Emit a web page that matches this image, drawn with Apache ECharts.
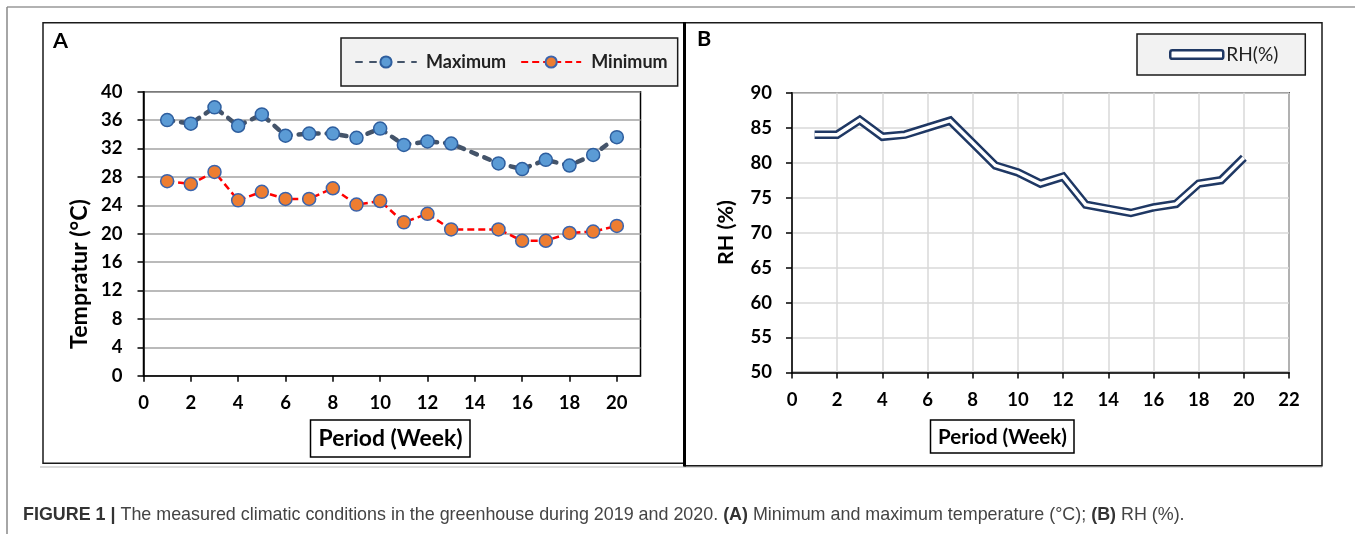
<!DOCTYPE html>
<html><head><meta charset="utf-8">
<script src="https://cdn.jsdelivr.net/npm/echarts@6/dist/echarts.min.js"></script>
<style>html,body{margin:0;padding:0;background:#fff}#c{width:1355px;height:534px}</style>
</head><body><div id="c"></div>
<script>
// Panel A: temperature (week 14 not recorded)
const weeksA = [1,2,3,4,5,6,7,8,9,10,11,12,13,15,16,17,18,19,20];
const tMax = [36.0,35.5,37.8,35.2,36.8,33.8,34.1,34.1,33.5,34.8,32.5,33.0,32.7,29.9,29.1,30.4,29.6,31.1,33.6];
const tMin = [27.4,27.0,28.7,24.7,25.9,24.9,24.9,26.4,24.1,24.6,21.6,22.8,20.6,20.6,19.0,19.0,20.1,20.3,21.1];
// Panel B: relative humidity
const weeksB = [1,2,3,4,5,6,7,8,9,10,11,12,13,14,15,16,17,18,19,20];
const rh = [84.0,84.0,86.1,83.7,84.0,85.0,86.0,82.8,79.6,78.6,77.0,78.0,74.0,73.4,72.8,73.6,74.1,77.0,77.5,80.7];

const F = 'Lato';
const CF = '"Liberation Sans"';
const mctx = document.createElement('canvas').getContext('2d');
function fit(text, weight, family, target) {
  mctx.font = weight + ' 100px ' + family;
  return Math.round(1000 * target / mctx.measureText(text).width) / 10;
}
const fsTick = fit('40', 'bold', F, 21.5);
const fsLegA = fit('Maximum', 'bold', F, 80);
const fsLegB = fit('RH(%)', 'normal', F, 52);
const fsNameA = fit('Period (Week)', 'bold', F, 144);
const fsNameB = fit('Period (Week)', 'bold', F, 129);
const fsTemp = fit('Tempratur (°C)', 'bold', F, 150);
const fsRH = fit('RH (%)', 'bold', F, 65);
const fsPanel = fit('A', 'bold', F, 15);
const fsCap = fit('The measured climatic conditions i', 'normal', CF, 274);

const pair = (xs, ys) => xs.map((x, i) => [x, ys[i]]);
const tick = {fontFamily: F, fontWeight: 'bold', fontSize: fsTick, color: '#000'};
const axisCommon = {
  axisLine: {lineStyle: {color: '#000', width: 1.5}},
  axisTick: {length: 6, lineStyle: {color: '#000', width: 1.5}}
};

const chart = echarts.init(document.getElementById('c'), null, {renderer: 'canvas'});
chart.setOption({
  animation: false,
  backgroundColor: '#fff',
  graphic: [
    {type: 'line', shape: {x1: 7, y1: 7, x2: 1355, y2: 7}, style: {stroke: '#666', lineWidth: 1.2}},
    {type: 'line', shape: {x1: 7, y1: 7, x2: 7, y2: 534}, style: {stroke: '#888', lineWidth: 1.5}},
    {type: 'line', shape: {x1: 40, y1: 467, x2: 1322, y2: 467}, style: {stroke: '#cfcfcf', lineWidth: 1.5}},
    {type: 'rect', shape: {x: 43, y: 22.7, width: 641, height: 440.5}, style: {fill: 'none', stroke: '#1a1a1a', lineWidth: 1.5}},
    {type: 'rect', shape: {x: 685, y: 22.7, width: 637, height: 443}, style: {fill: 'none', stroke: '#1a1a1a', lineWidth: 1.5}},
    {type: 'line', shape: {x1: 684.5, y1: 22, x2: 684.5, y2: 466.5}, style: {stroke: '#000', lineWidth: 3}},
    {type: 'text', x: 60.5, y: 41, style: {text: 'A', font: 'bold ' + fsPanel + 'px ' + F, fill: '#000', align: 'center', verticalAlign: 'middle'}},
    {type: 'text', x: 704, y: 39.5, style: {text: 'B', font: 'bold ' + fsPanel + 'px ' + F, fill: '#000', align: 'center', verticalAlign: 'middle'}},
    // axis titles
    {type: 'text', x: 79.5, y: 274, rotation: Math.PI / 2, style: {text: 'Tempratur (°C)', font: 'bold ' + fsTemp + 'px ' + F, fill: '#000', align: 'center', verticalAlign: 'middle'}},
    {type: 'text', x: 726.5, y: 232.5, rotation: Math.PI / 2, style: {text: 'RH (%)', font: 'bold ' + fsRH + 'px ' + F, fill: '#000', align: 'center', verticalAlign: 'middle'}},
    {type: 'rect', shape: {x: 310.5, y: 420, width: 159.5, height: 37}, style: {fill: '#fff', stroke: '#000', lineWidth: 1.5}},
    {type: 'text', x: 390.5, y: 439, style: {text: 'Period (Week)', font: 'bold ' + fsNameA + 'px ' + F, fill: '#000', align: 'center', verticalAlign: 'middle'}},
    {type: 'rect', shape: {x: 930.5, y: 420, width: 143.5, height: 33}, style: {fill: '#fff', stroke: '#000', lineWidth: 1.5}},
    {type: 'text', x: 1002.5, y: 437, style: {text: 'Period (Week)', font: 'bold ' + fsNameB + 'px ' + F, fill: '#000', align: 'center', verticalAlign: 'middle'}},
    // caption
    {type: 'text', x: 23, y: 515, style: {
      verticalAlign: 'middle',
      rich: {b: {fontFamily: CF, fontWeight: 'bold', fontSize: fsCap, fill: '#333'},
             n: {fontFamily: CF, fontSize: fsCap, fill: '#444'}},
      text: '{b|FIGURE 1 |}{n| The measured climatic conditions in the greenhouse during 2019 and 2020. }{b|(A)}{n| Minimum and maximum temperature (°C); }{b|(B)}{n| RH (%).}'
    }}
  ],
  legend: [
    {
      left: 341, top: 38,
      backgroundColor: '#f2f2f2', borderColor: '#1a1a1a', borderWidth: 1.5,
      padding: [15, 10, 15, 14], itemGap: 14, itemWidth: 60, itemHeight: 14,
      textStyle: {fontFamily: F, fontWeight: 'bold', fontSize: fsLegA, color: '#222', padding: [0, 0, 0, 5]},
      data: ['Maximum', 'Minimum']
    },
    {
      left: 1137, top: 34,
      backgroundColor: '#f2f2f2', borderColor: '#1a1a1a', borderWidth: 1.5,
      padding: [11, 27, 11, 32], itemWidth: 53, itemHeight: 8.5,
      textStyle: {fontFamily: F, fontSize: fsLegB, color: '#222', padding: [0, 0, 0, -2]},
      data: [{name: 'RH(%)', icon: 'roundRect', itemStyle: {color: '#fff', borderColor: '#1f3864', borderWidth: 2.5}}]
    }
  ],
  grid: [
    {left: 143.5, top: 91.7, width: 497, height: 284, show: true, borderColor: '#000', borderWidth: 1.5},
    {left: 792, top: 92.7, width: 497, height: 279.8, show: true, borderColor: '#000', borderWidth: 1.5}
  ],
  xAxis: [
    Object.assign({gridIndex: 0, type: 'value', min: 0, max: 21, interval: 2,
     axisLabel: Object.assign({margin: 18, showMaxLabel: false}, tick), splitLine: {show: false}}, axisCommon),
    Object.assign({gridIndex: 1, type: 'value', min: 0, max: 22, interval: 2,
     axisLabel: Object.assign({margin: 18}, tick), splitLine: {show: true, lineStyle: {color: '#d9d9d9', width: 1.5}}}, axisCommon)
  ],
  yAxis: [
    Object.assign({gridIndex: 0, type: 'value', min: 0, max: 40, interval: 4,
     axisLabel: Object.assign({margin: 21}, tick), splitLine: {lineStyle: {color: '#a3a3a3', width: 1.5}}}, axisCommon),
    Object.assign({gridIndex: 1, type: 'value', min: 50, max: 90, interval: 5,
     axisLabel: Object.assign({margin: 20}, tick), splitLine: {lineStyle: {color: '#d9d9d9', width: 1.5}}}, axisCommon)
  ],
  series: [
    {name: 'Maximum', type: 'line', xAxisIndex: 0, yAxisIndex: 0, data: pair(weeksA, tMax),
     symbol: 'circle', symbolSize: 13,
     lineStyle: {color: '#44546a', width: 4.5, type: [6, 8], cap: 'round'},
     itemStyle: {color: '#5b9bd5', borderColor: '#2e5e9e', borderWidth: 1.5}},
    {name: 'Minimum', type: 'line', xAxisIndex: 0, yAxisIndex: 0, data: pair(weeksA, tMin),
     symbol: 'circle', symbolSize: 13,
     lineStyle: {color: '#ff0000', width: 2.5, type: [7, 4]},
     itemStyle: {color: '#ed7d31', borderColor: '#3b64ad', borderWidth: 1.5}},
    {name: 'RH(%)', type: 'line', xAxisIndex: 1, yAxisIndex: 1, data: pair(weeksB, rh),
     symbol: 'none', lineStyle: {color: '#1f3864', width: 8.5, join: 'miter'}, z: 3},
    {name: 'RH(%)', type: 'line', xAxisIndex: 1, yAxisIndex: 1, data: pair(weeksB, rh),
     symbol: 'none', lineStyle: {color: '#ffffff', width: 3.5, join: 'miter'}, z: 4}
  ]
});
</script></body></html>
